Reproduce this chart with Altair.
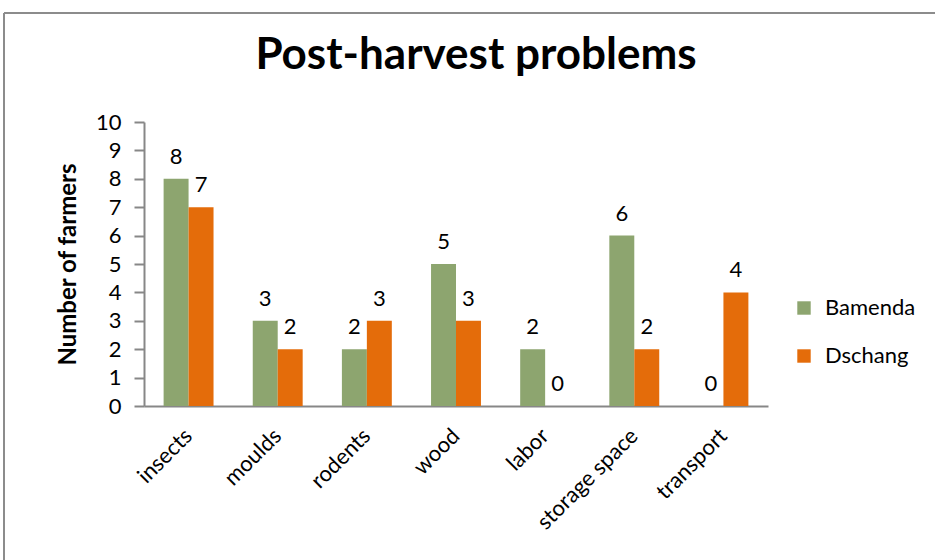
import altair as alt
import pandas as pd

# Post-harvest problems reported by farmers at two sites
problems = ["insects", "moulds", "rodents", "wood", "labor", "storage space", "transport"]
bamenda = [8, 3, 2, 5, 2, 6, 0]
dschang = [7, 2, 3, 3, 0, 2, 4]
sites = ["Bamenda", "Dschang"]
site_colors = ["#8DA56F", "#E46C0A"]
y_ticks = list(range(0, 11))
chart_title = "Post-harvest problems"

rows = []
for i, p in enumerate(problems):
    rows.append({"problem": p, "site": "Bamenda", "farmers": bamenda[i]})
    rows.append({"problem": p, "site": "Dschang", "farmers": dschang[i]})
df = pd.DataFrame(rows)

FONT = "Lato"
AXIS_GREY = "#878787"
LABEL_SIZE = 22

x_enc = alt.X(
    "problem:N",
    sort=problems,
    scale=alt.Scale(paddingInner=0.44, paddingOuter=0.22),
    axis=alt.Axis(
        title=None,
        labelAngle=-45,
        labelAlign="right",
        labelBaseline="middle",
        labelFontSize=LABEL_SIZE,
        labelFont=FONT,
        labelColor="black",
        labelPadding=26,
        labelOverlap=False,
        ticks=False,
        domainColor=AXIS_GREY,
        domainWidth=2,
    ),
)
y_enc = alt.Y(
    "farmers:Q",
    scale=alt.Scale(domain=[0, 10], nice=False),
    axis=alt.Axis(
        title="Number of farmers",
        titleFont=FONT,
        titleFontSize=24,
        titleFontWeight="bold",
        titleColor="black",
        titlePadding=15,
        values=y_ticks,
        tickCount=11,
        labelOverlap=False,
        labelFontSize=LABEL_SIZE,
        labelFont=FONT,
        labelColor="black",
        labelPadding=13,
        tickSize=10,
        tickColor=AXIS_GREY,
        tickWidth=2,
        domainColor=AXIS_GREY,
        domainWidth=2,
        grid=False,
    ),
)
x_off = alt.XOffset("site:N", sort=sites)

bars = alt.Chart(df).mark_bar().encode(
    x=x_enc,
    xOffset=x_off,
    y=y_enc,
    color=alt.Color(
        "site:N",
        sort=sites,
        scale=alt.Scale(domain=sites, range=site_colors),
        legend=alt.Legend(
            title=None,
            orient="none",
            legendX=649,
            legendY=175,
            symbolType="square",
            symbolSize=180,
            symbolStrokeWidth=0,
            labelFont=FONT,
            labelFontSize=LABEL_SIZE,
            labelColor="black",
            labelOffset=10,
            rowPadding=26,
        ),
    ),
)

labels = alt.Chart(df).mark_text(
    baseline="bottom", dy=-10, fontSize=LABEL_SIZE, font=FONT, color="black"
).encode(
    x=x_enc,
    xOffset=x_off,
    y=y_enc,
    text="farmers:Q",
)

# chart heading, centred over the plot and legend
heading = alt.Chart(pd.DataFrame({"t": [chart_title]})).mark_text(
    font=FONT, fontSize=44, fontWeight="bold", color="black",
    align="center", baseline="alphabetic",
).encode(x=alt.value(332), y=alt.value(-53), text="t:N")

# outer frame of the chart area (top and left edges)
frame_top = alt.Chart(df).mark_rule(color="#8C8C8C", strokeWidth=2).encode(
    x=alt.value(-140), x2=alt.value(800), y=alt.value(-109)
)
frame_left = alt.Chart(df).mark_rule(color="#8C8C8C", strokeWidth=2).encode(
    x=alt.value(-140), y=alt.value(-109), y2=alt.value(450)
)

chart = (
    alt.layer(frame_top, frame_left, bars, labels, heading)
    .properties(
        width=624,
        height=284,
        autosize=alt.AutoSizeParams(type="none"),
        padding={"left": 144, "top": 122, "right": 167, "bottom": 154},
        background="white",
    )
    .configure_view(stroke=None)
)

chart.save("out.html", embed_options={"renderer": "svg", "actions": False})
